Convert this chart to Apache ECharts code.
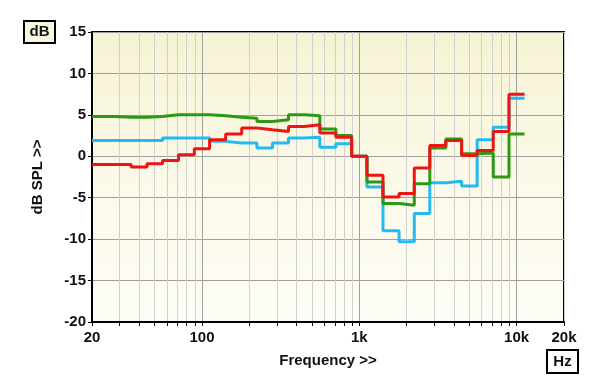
<!DOCTYPE html>
<html><head><meta charset="utf-8">
<script src="https://cdn.jsdelivr.net/npm/echarts@6/dist/echarts.min.js"></script>
<style>html,body{margin:0;padding:0;background:#fff}#c{width:600px;height:387px}</style>
</head><body><div id="c"></div>
<script>
// Third-octave band centres (Hz)
const bands = [20,25,31.5,40,50,63,80,100,125,160,200,250,315,400,500,630,800,1000,1250,1600,2000,2500,3150,4000,5000,6300,8000,10000];
// Response values (dB) per band
const greenValues = [4.8,4.8,4.7,4.7,4.8,5.0,5.0,5.0,4.9,4.7,4.6,4.2,4.4,5.0,4.9,3.3,2.5,0.0,-3.1,-5.7,-5.9,-3.3,1.0,2.1,0.3,0.4,-2.5,2.7];
const cyanValues  = [1.9,1.9,1.9,1.9,1.9,2.2,2.2,2.2,1.8,1.6,1.6,1.0,1.6,2.2,2.3,1.1,1.5,0.0,-3.7,-9.0,-10.3,-6.9,-3.2,-3.0,-3.6,2.0,3.5,7.0];
const redValues   = [-1.0,-1.0,-1.0,-1.3,-0.9,-0.5,0.2,0.9,2.0,2.7,3.4,3.2,3.0,3.6,3.8,2.8,2.3,0.0,-2.3,-4.9,-4.5,-1.4,1.3,1.9,0.1,0.7,3.0,7.5];

// Axis ticks
const xMinorTicks = [20,30,40,50,60,70,80,90,100,200,300,400,500,600,700,800,900,1000,2000,3000,4000,5000,6000,7000,8000,9000,10000,20000];
const xMajorTicks = [100,1000,10000];
const xLabelValues = [20,100,1000,10000,20000];
const xLabelTexts  = ['20','100','1k','10k','20k'];
const xMin = 20, xMax = 20000;
const yMin = -20, yMax = 15, yStep = 5;

function stepPoints(values){
  const pts = [];
  for (let i = 0; i < bands.length; i++) {
    const lo = i === 0 ? xMin : Math.sqrt(bands[i-1]*bands[i]);
    const hi = i === bands.length-1 ? bands[i]*Math.pow(2,1/6) : Math.sqrt(bands[i]*bands[i+1]);
    pts.push([lo, values[i]], [hi, values[i]]);
  }
  return pts;
}

const FONT = '"Liberation Sans", Arial, sans-serif';
const chart = echarts.init(document.getElementById('c'), null, {renderer:'canvas'});
const lineSeries = (name, color, values) => ({
  name, type:'line', data: stepPoints(values), showSymbol:false, symbol:'none',
  lineStyle:{color, width:3}, itemStyle:{color}, animation:false, clip:true, xAxisIndex:0
});

chart.setOption({
  animation:false,
  backgroundColor:'#ffffff',
  grid:{
    left:92, right:36, top:32, bottom:65, show:true,
    borderColor:'#000', borderWidth:2,
    backgroundColor: new echarts.graphic.LinearGradient(0,0,0,1,[
      {offset:0, color:'#f6f3d3'},{offset:0.5,color:'#fbf9e8'},{offset:1,color:'#fefdf6'}])
  },
  xAxis:[
    {
      type:'log', logBase:10, min:xMin, max:xMax,
      name:'Frequency >>', nameLocation:'middle', nameGap:31,
      nameTextStyle:{fontFamily:FONT, fontWeight:'bold', fontSize:15, color:'#111'},
      axisLine:{show:true, onZero:false, lineStyle:{color:'#000', width:2}},
      axisTick:{show:true, customValues:xMinorTicks, length:4, lineStyle:{color:'#000', width:1}},
      axisLabel:{customValues:xLabelValues, margin:8, fontFamily:FONT, fontWeight:'bold', fontSize:15, color:'#111',
        formatter: v => { const i = xLabelValues.findIndex(x => Math.abs(x - v) / x < 1e-6); return i >= 0 ? xLabelTexts[i] : ''; }},
      splitLine:{show:true, lineStyle:{color:'#d0d0d0', width:1}},
      minorTick:{show:false}, minorSplitLine:{show:false}
    },
    {
      type:'log', logBase:10, min:xMin, max:xMax, position:'bottom',
      axisLine:{show:false, onZero:false}, axisTick:{show:false, customValues:xMajorTicks},
      axisLabel:{show:false, customValues:xMajorTicks},
      splitLine:{show:true, lineStyle:{color:'#a0a0a0', width:1}}
    }
  ],
  yAxis:{
    type:'value', min:yMin, max:yMax, interval:yStep,
    name:'dB SPL >>', nameLocation:'middle', nameGap:47, nameRotate:90,
    nameTextStyle:{fontFamily:FONT, fontWeight:'bold', fontSize:15, color:'#111'},
    axisLine:{show:true, onZero:false, lineStyle:{color:'#000', width:2}},
    axisTick:{show:true, length:4, lineStyle:{color:'#000', width:1}},
    axisLabel:{margin:6, fontFamily:FONT, fontWeight:'bold', fontSize:15, color:'#111'},
    splitLine:{show:true, lineStyle:{color:'#a0a0a0', width:1}}
  },
  series:[
    lineSeries('cyan','#22baf0',cyanValues),
    lineSeries('green','#2b9a12',greenValues),
    lineSeries('red','#ee1414',redValues)
  ],
  graphic:[
    {type:'group', left:23, top:20, children:[
      {type:'rect', shape:{x:0,y:0,width:31,height:22}, style:{fill:'#f8f6e0', stroke:'#000', lineWidth:2}},
      {type:'text', x:15.5, y:11, style:{text:'dB', font:'bold 15px '+FONT, fill:'#111', align:'center', verticalAlign:'middle'}}
    ]},
    {type:'group', left:546, top:349, children:[
      {type:'rect', shape:{x:0,y:0,width:31,height:23}, style:{fill:'#ffffff', stroke:'#000', lineWidth:2}},
      {type:'text', x:15.5, y:11.5, style:{text:'Hz', font:'bold 15px '+FONT, fill:'#111', align:'center', verticalAlign:'middle'}}
    ]}
  ]
});
</script></body></html>
